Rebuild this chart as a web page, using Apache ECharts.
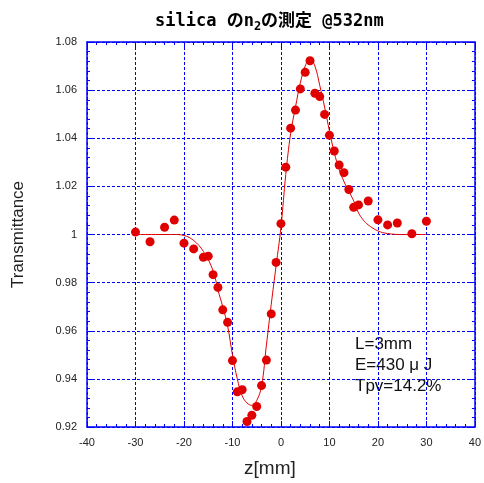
<!DOCTYPE html>
<html>
<head>
<meta charset="utf-8">
<script src="https://cdn.jsdelivr.net/npm/echarts@6/dist/echarts.min.js"></script>
<style>html,body{margin:0;padding:0;background:#fff}#c{width:484px;height:483px}</style>
</head>
<body>
<div id="c"></div>
<script>
// measured points
var zData = [-30,-27,-24,-22,-20,-18,-16,-15,-14,-13,-12,-11,-10,-9,-8,-7,-6,-5,-4,-3,-2,-1,0,1,2,3,4,5,6,7,8,9,10,11,12,13,14,15,16,18,20,22,24,27,30];
var tData = [1.001,0.997,1.003,1.006,0.9964,0.994,0.9905,0.991,0.9833,0.978,0.9687,0.9635,0.9476,0.9346,0.9355,0.9223,0.9249,0.9285,0.9372,0.9478,0.967,0.9884,1.0045,1.028,1.0442,1.0517,1.0605,1.0674,1.0722,1.0587,1.0573,1.0499,1.0412,1.0347,1.0289,1.0257,1.0187,1.0113,1.0123,1.0139,1.0061,1.004,1.0048,1.0003,1.0055];
// fitted curve
var zFit = [-30,-25,-22,-20,-18,-16,-14,-13,-12,-11,-10,-9,-8,-7,-6,-5,-4,-3,-2,-1,0,1,2,3,4,5,6,7,8,9,10,11,12,13,14,15,16,17,18,20,22,25,30];
var tFit = [1.000,1.000,1.000,0.9996,0.9975,0.993,0.985,0.977,0.970,0.962,0.950,0.940,0.933,0.930,0.929,0.931,0.937,0.954,0.971,0.987,1.003,1.025,1.042,1.053,1.063,1.070,1.073,1.070,1.062,1.053,1.043,1.034,1.027,1.022,1.018,1.014,1.009,1.006,1.004,1.0015,1.0004,1.000,1.000];
var xTicks = [-40,-30,-20,-10,0,10,20,30,40];
var yTicks = [0.92,0.94,0.96,0.98,1,1.02,1.04,1.06,1.08];

var blue = '#0000ff';
function axisCommon(showLabel) {
  return {
    axisLine: {show: true, onZero: false, lineStyle: {color: blue, width: 1.5}},
    axisTick: {show: true, inside: true, length: 6, lineStyle: {color: blue}},
    minorTick: {show: true, splitNumber: 5, length: 3, lineStyle: {color: blue}},
    splitLine: {show: false},
    axisLabel: {show: showLabel}
  };
}
var chart = echarts.init(document.getElementById('c'), null, {renderer: 'canvas'});
var pts = zData.map(function (z, i) { return [z, tData[i]]; });
var fit = zFit.map(function (z, i) { return [z, tFit[i]]; });
var xa = Object.assign(axisCommon(true), {
  type: 'value', min: xTicks[0], max: xTicks[xTicks.length - 1], interval: 10, position: 'bottom',
  name: 'z[mm]', nameLocation: 'middle', nameGap: 32,
  nameTextStyle: {fontSize: 19, color: '#222', fontFamily: 'Liberation Sans', padding: [0, 22, 0, 0]},
  axisLabel: {show: true, fontSize: 11, color: '#222', margin: 10, fontFamily: 'Liberation Sans'},
  splitLine: {show: true, lineStyle: {color: blue, type: [3, 2], width: 1}}
});
var xa2 = Object.assign(axisCommon(false), {
  type: 'value', min: -40, max: 40, interval: 10, position: 'top'
});
var ya = Object.assign(axisCommon(true), {
  type: 'value', min: yTicks[0], max: yTicks[yTicks.length - 1], interval: 0.02, position: 'left',
  name: 'Transmittance', nameLocation: 'middle', nameGap: 60, nameRotate: 90,
  nameTextStyle: {fontSize: 17, color: '#222', fontFamily: 'Liberation Sans'},
  axisLabel: {show: true, fontSize: 11, color: '#222', margin: 10, fontFamily: 'Liberation Sans',
    formatter: function (v) { return String(+v.toFixed(2)); }},
  splitLine: {show: true, lineStyle: {color: blue, type: [3, 2], width: 1}}
});
var ya2 = Object.assign(axisCommon(false), {
  type: 'value', min: 0.92, max: 1.08, interval: 0.02, position: 'right'
});
chart.setOption({
  animation: false,
  backgroundColor: '#fff',
  title: {
    text: '{a|silica の}{a|n}{s|2}{a|の測定 @532nm}',
    left: 150, top: 6,
    textStyle: {
      rich: {
        a: {fontSize: 17, fontWeight: 'bold', color: '#000', fontFamily: "'DejaVu Sans Mono','Noto Sans CJK JP',monospace", lineHeight: 22},
        s: {fontSize: 12, fontWeight: 'bold', color: '#000', fontFamily: "'DejaVu Sans Mono',monospace", verticalAlign: 'bottom', lineHeight: 22, padding: [12, 0, 0, 0]}
      }
    }
  },
  grid: {left: 87, right: 3, top: 42, bottom: 52, containLabel: false},
  xAxis: [xa, xa2],
  yAxis: [ya, ya2],
  graphic: [
    {type: 'text', left: 355, top: 336, style: {text: 'L=3mm', fontSize: 17, fill: '#111', fontFamily: 'Liberation Sans'}},
    {type: 'text', left: 355, top: 357, style: {text: 'E=430 μ J', fontSize: 17, fill: '#111', fontFamily: 'Liberation Sans'}},
    {type: 'text', left: 355, top: 378, style: {text: 'Tpv=14.2%', fontSize: 17, fill: '#111', fontFamily: 'Liberation Sans'}}
  ],
  series: [
    {type: 'line', data: fit, smooth: 0.4, showSymbol: false, symbol: 'none',
     lineStyle: {color: '#e00000', width: 1}, z: 2},
    {type: 'scatter', data: pts, symbol: 'circle', symbolSize: 9,
     itemStyle: {color: '#e00000', opacity: 1}, z: 3}
  ]
});
</script>
</body>
</html>
